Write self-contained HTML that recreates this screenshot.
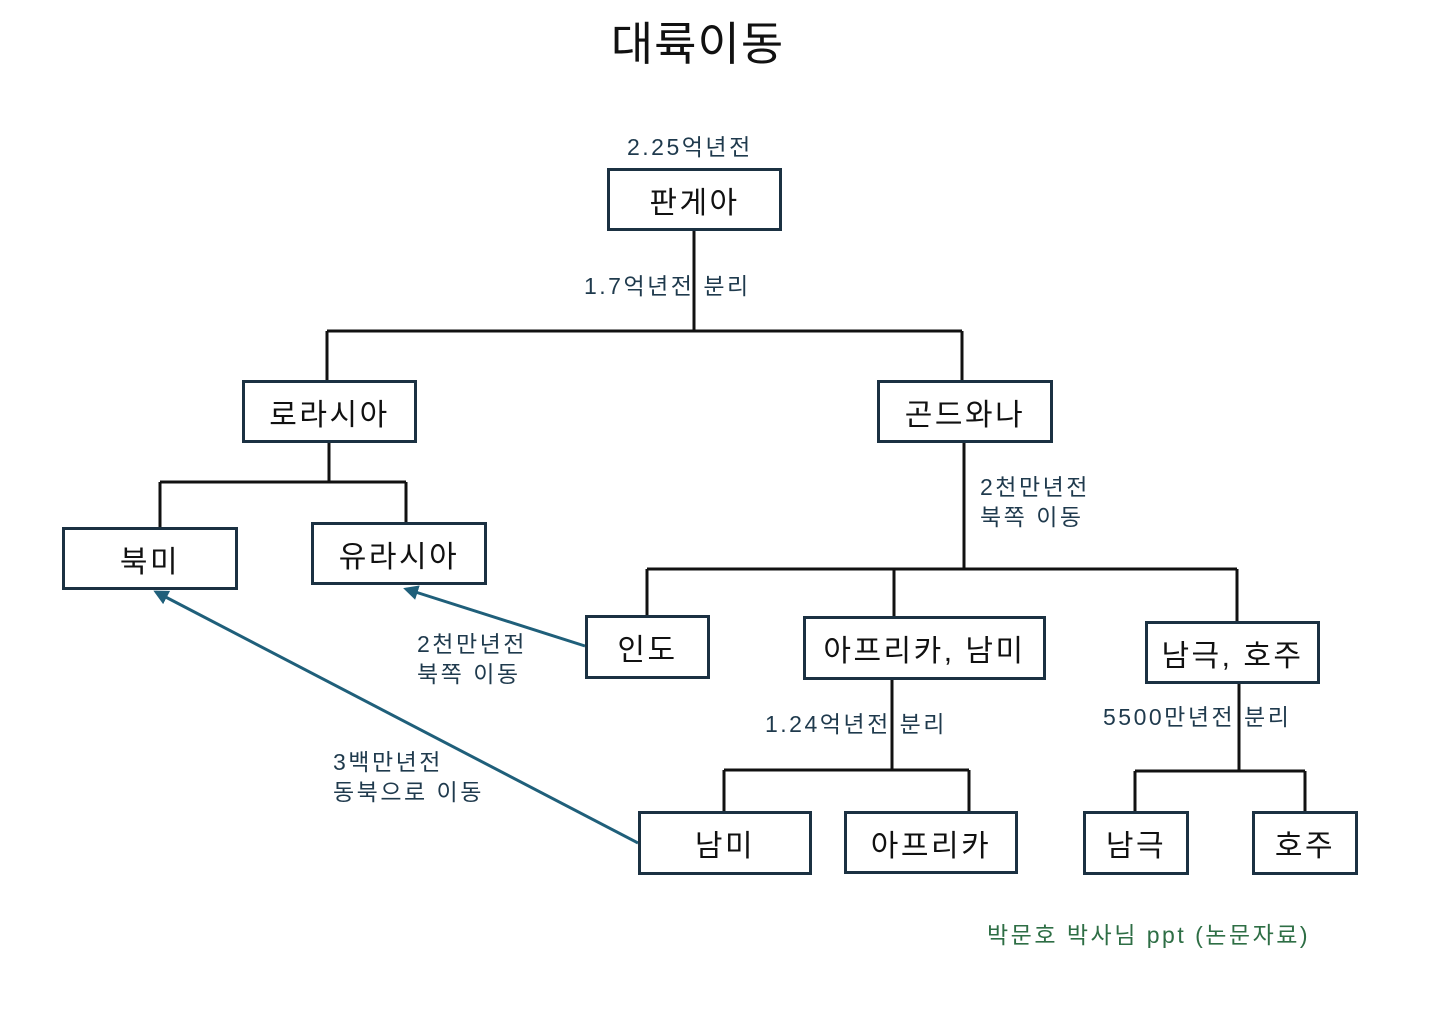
<!DOCTYPE html>
<html><head><meta charset="utf-8"><style>
body{margin:0;width:1440px;height:1018px;background:#fff;position:relative;overflow:hidden;font-family:"Liberation Sans","Noto Sans CJK KR",sans-serif}
.b{position:absolute;border:3px solid #1b3142;box-sizing:border-box;display:flex;align-items:center;justify-content:center;font-size:30px;color:#111;background:#fff;letter-spacing:2.5px}
.t{position:absolute;font-size:23px;color:#1f3a4d;line-height:30px;white-space:nowrap;letter-spacing:2.5px}
</style></head><body>
<div style="position:absolute;left:0;width:1395px;top:8px;text-align:center;font-size:46px;color:#111;letter-spacing:1px">대륙이동</div>
<svg width="1440" height="1018" style="position:absolute;left:0;top:0">
<g stroke="#111" stroke-width="3" fill="none">
<path d="M694 231V331M327 331H962M327 331V380M962 331V380"/>
<path d="M329 443V482M160 482H406M160 482V527M406 482V522"/>
<path d="M964 443V569M647 569H1237M647 569V615M894 569V616M1237 569V621"/>
<path d="M892 680V770M724 770H969M724 770V811M969 770V811"/>
<path d="M1239 684V771M1135 771H1305M1135 771V811M1305 771V811"/>
</g>
<defs><marker id="a" markerWidth="5" markerHeight="5" refX="4" refY="2.5" orient="auto" markerUnits="strokeWidth"><path d="M0 0L5 2.5L0 5z" fill="#1f5f7a"/></marker></defs>
<g stroke="#1f5f7a" stroke-width="3" fill="none">
<line x1="585" y1="646" x2="406" y2="589" marker-end="url(#a)"/>
<line x1="638" y1="843" x2="156" y2="592" marker-end="url(#a)"/>
</g>
</svg>
<div class="b" style="left:607px;top:168px;width:175px;height:63px">판게아</div>
<div class="b" style="left:242px;top:380px;width:175px;height:63px">로라시아</div>
<div class="b" style="left:877px;top:380px;width:176px;height:63px">곤드와나</div>
<div class="b" style="left:62px;top:527px;width:176px;height:63px">북미</div>
<div class="b" style="left:311px;top:522px;width:176px;height:63px">유라시아</div>
<div class="b" style="left:585px;top:615px;width:125px;height:64px">인도</div>
<div class="b" style="left:803px;top:616px;width:243px;height:64px">아프리카, 남미</div>
<div class="b" style="left:1145px;top:621px;width:175px;height:63px">남극, 호주</div>
<div class="b" style="left:638px;top:811px;width:174px;height:64px">남미</div>
<div class="b" style="left:844px;top:811px;width:174px;height:63px">아프리카</div>
<div class="b" style="left:1083px;top:811px;width:106px;height:64px">남극</div>
<div class="b" style="left:1252px;top:811px;width:106px;height:64px">호주</div>
<div class="t" style="left:627px;top:132px">2.25억년전</div>
<div class="t" style="left:584px;top:271px">1.7억년전 분리</div>
<div class="t" style="left:980px;top:472px">2천만년전<br>북쪽 이동</div>
<div class="t" style="left:417px;top:629px">2천만년전<br>북쪽 이동</div>
<div class="t" style="left:333px;top:747px">3백만년전<br>동북으로 이동</div>
<div class="t" style="left:765px;top:709px">1.24억년전 분리</div>
<div class="t" style="left:1103px;top:702px">5500만년전 분리</div>
<div class="t" style="left:987px;top:920px;color:#2e6e45">박문호 박사님 ppt (논문자료)</div>
</body></html>
